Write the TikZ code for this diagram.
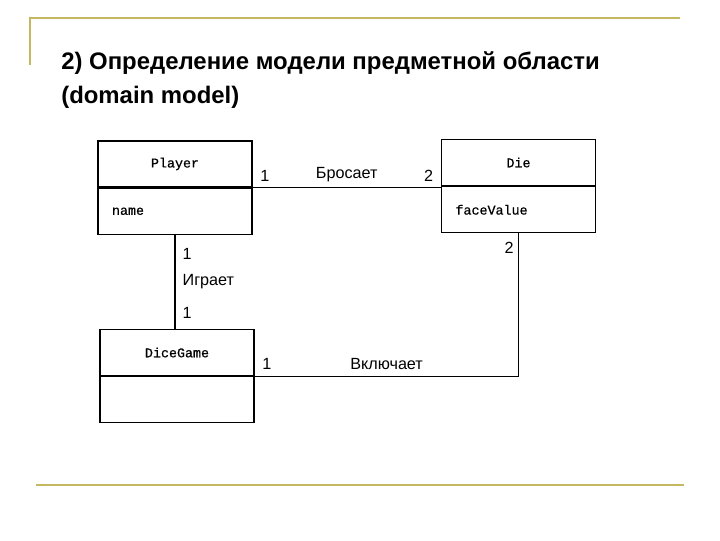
\documentclass[tikz,border=0pt]{standalone}
\usepackage{fontspec}
\setmainfont{Liberation Sans}
\setmonofont[FakeBold=0.6]{Liberation Mono}
\usetikzlibrary{positioning}
\definecolor{rulecol}{RGB}{196,184,96}

\begin{document}
\begin{tikzpicture}[
    x=0.025cm, y=-0.025cm, line width=0.9pt,
    cls/.style={draw, rectangle, minimum width=3.85cm, minimum height=1.15cm, inner sep=0pt, font=\ttfamily\fontsize{9.5}{11}\selectfont},
    attr/.style={cls, text width=3.15cm, inner xsep=0.35cm, align=left},
    lbl/.style={font=\fontsize{11.5}{13}\selectfont, inner xsep=5pt, inner ysep=4pt},
    rule/.style={draw=rulecol, line width=1.6pt}
]
\useasboundingbox (0,0) rectangle (720,540);
\draw[rule] (30,65) -- (30,18) -- (680,18);
\draw[rule] (36,485) -- (684,485);
\node[anchor=west, align=left, font=\bfseries\fontsize{17}{24}\selectfont] (title) at (56,80)
    {2) Определение модели предметной области\\(domain model)};

\node[cls] (player) at (175,164) {Player};
\node[attr, below=0pt of player] (playerattr) {name};
\node[cls] (die) at (518.5,162.5) {Die};
\node[attr, below=0pt of die] (dieattr) {faceValue};
\node[cls] (game) at (177,352.5) {DiceGame};
\node[attr, below=0pt of game] (gameattr) {};

\draw (player.south east) -- node[lbl, above] {Бросает}
    node[lbl, pos=0, above right] {1}
    node[lbl, pos=1, above left] {2} (player.south east -| die.west);
\draw (playerattr.south) -- node[lbl, right] {Играет}
    node[lbl, pos=0.2, right] {1}
    node[lbl, pos=0.83, right] {1} (playerattr.south |- game.north);
\draw (dieattr.south) |- node[lbl, pos=0.75, above] {Включает}
    node[lbl, pos=0.05, left, inner xsep=3pt] {2}
    node[lbl, pos=1, above right] {1} (game.south east);
\end{tikzpicture}
\end{document}
